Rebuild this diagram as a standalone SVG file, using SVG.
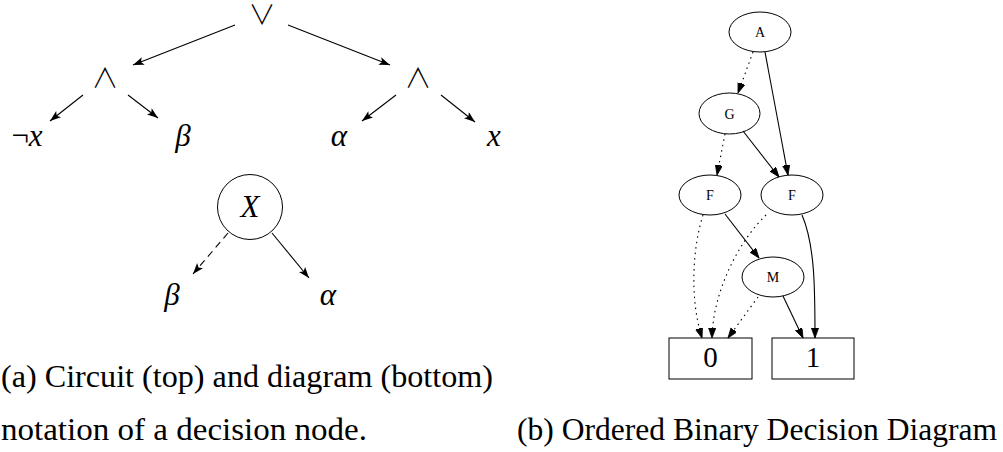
<svg xmlns="http://www.w3.org/2000/svg" width="1003" height="452" viewBox="0 0 1003 452">
<style>
.ln{fill:none;stroke:#000;stroke-width:1.1}
.dash{stroke-dasharray:7 5}
.dot{stroke-dasharray:1.5 4}
.op{font-family:"Noto Sans CJK JP","DejaVu Sans",sans-serif;font-weight:300;font-size:27px;text-anchor:middle}
.m{font-family:"Liberation Serif","Times New Roman","DejaVu Serif",serif;font-style:italic;font-size:31px;text-anchor:middle}
.nd{fill:#fff;stroke:#000;stroke-width:1}
.nl{font-family:"Liberation Serif","Times New Roman",serif;font-size:14px;text-anchor:middle}
.bl{font-family:"Liberation Serif","Times New Roman",serif;font-size:29px;text-anchor:middle}
.cap{font-family:"Liberation Serif","DejaVu Serif",serif;font-size:31px}
</style>
<defs>
<marker id="ah" markerUnits="userSpaceOnUse" markerWidth="12" markerHeight="9" refX="11" refY="4" orient="auto">
<path d="M0,0 L11,4 L0,8 L2.5,4 z" fill="#000"/>
</marker>
<marker id="gh" markerUnits="userSpaceOnUse" markerWidth="12" markerHeight="9" refX="10" refY="3.6" orient="auto">
<path d="M0,0 L10,3.6 L0,7.2 z" fill="#000" stroke="#000" stroke-width="0.8"/>
</marker>
</defs>

<g id="circuit">
<g id="or"><text class="op" x="262" y="25">∨</text></g>
<g id="and1"><text class="op" x="105" y="88">∧</text></g>
<g id="and2"><text class="op" x="418" y="88">∧</text></g>
<g id="notx"><text class="m" x="27" y="146" style="font-style:normal">¬<tspan style="font-style:italic">x</tspan></text></g>
<g id="beta1"><text class="m" x="183" y="146">β</text></g>
<g id="alpha1"><text class="m" x="339" y="146">α</text></g>
<g id="x1"><text class="m" x="494" y="146">x</text></g>
</g>

<g id="decision">
<g id="nodeX"><circle cx="250" cy="207" r="32.5" fill="#fff" stroke="#000" stroke-width="1"/><text class="m" x="250" y="217">X</text></g>
<g id="beta2"><text class="m" x="172" y="305">β</text></g>
<g id="alpha2"><text class="m" x="328" y="305">α</text></g>
</g>

<g id="nA"><ellipse class="nd" cx="760" cy="32" rx="31" ry="20"/><text class="nl" x="760" y="37">A</text></g>
<g id="nG"><ellipse class="nd" cx="729.5" cy="113.5" rx="30.5" ry="20.5"/><text class="nl" x="729.5" y="118.5">G</text></g>
<g id="nF1"><ellipse class="nd" cx="710" cy="195" rx="31" ry="20"/><text class="nl" x="710" y="200">F</text></g>
<g id="nF2"><ellipse class="nd" cx="792" cy="195" rx="31" ry="20"/><text class="nl" x="792" y="200">F</text></g>
<g id="nM"><ellipse class="nd" cx="773" cy="277" rx="31" ry="20"/><text class="nl" x="773" y="282">M</text></g>
<g id="n0"><rect class="nd" x="669" y="338" width="83" height="41"/><text class="bl" x="710.5" y="367">0</text></g>
<g id="n1"><rect class="nd" x="772" y="338" width="82" height="41"/><text class="bl" x="813" y="367">1</text></g>

<g id="connectors">
<line class="ln" x1="235" y1="25" x2="133" y2="65" marker-end="url(#ah)"/>
<line class="ln" x1="288" y1="25" x2="390" y2="65" marker-end="url(#ah)"/>
<line class="ln" x1="83" y1="95" x2="50" y2="121" marker-end="url(#ah)"/>
<line class="ln" x1="128" y1="95" x2="158" y2="118" marker-end="url(#ah)"/>
<line class="ln" x1="396" y1="95" x2="362" y2="121" marker-end="url(#ah)"/>
<line class="ln" x1="441" y1="95" x2="475" y2="122" marker-end="url(#ah)"/>
<line class="ln dash" x1="228" y1="233" x2="193" y2="274" marker-end="url(#ah)"/>
<line class="ln" x1="272" y1="233" x2="309" y2="278" marker-end="url(#ah)"/>

<path class="ln dot" d="M753,52 L738,93" marker-end="url(#gh)"/>
<path class="ln" d="M765,52 L788,175" marker-end="url(#gh)"/>
<path class="ln dot" d="M725,134 L717,175" marker-end="url(#gh)"/>
<path class="ln" d="M743,131 L779,177" marker-end="url(#gh)"/>
<path class="ln" d="M725,214 L759,258" marker-end="url(#gh)"/>
<path class="ln dot" d="M703,215 C692,250 690,300 702,338" marker-end="url(#gh)"/>
<path class="ln dot" d="M766,215 C740,240 713,290 712,338" marker-end="url(#gh)"/>
<path class="ln dot" d="M758,297 L728,338" marker-end="url(#gh)"/>
<path class="ln" d="M783,296 L803,338" marker-end="url(#gh)"/>
<path class="ln" d="M802,215 C815,245 815,290 815,338" marker-end="url(#gh)"/>
</g>

<g id="captions">
<text class="cap" x="1" y="387" textLength="492" lengthAdjust="spacingAndGlyphs">(a) Circuit (top) and diagram (bottom)</text>
<text class="cap" x="1" y="440" textLength="366" lengthAdjust="spacingAndGlyphs">notation of a decision node.</text>
<text class="cap" x="517" y="440" textLength="480" lengthAdjust="spacingAndGlyphs">(b) Ordered Binary Decision Diagram</text>
</g>
</svg>
